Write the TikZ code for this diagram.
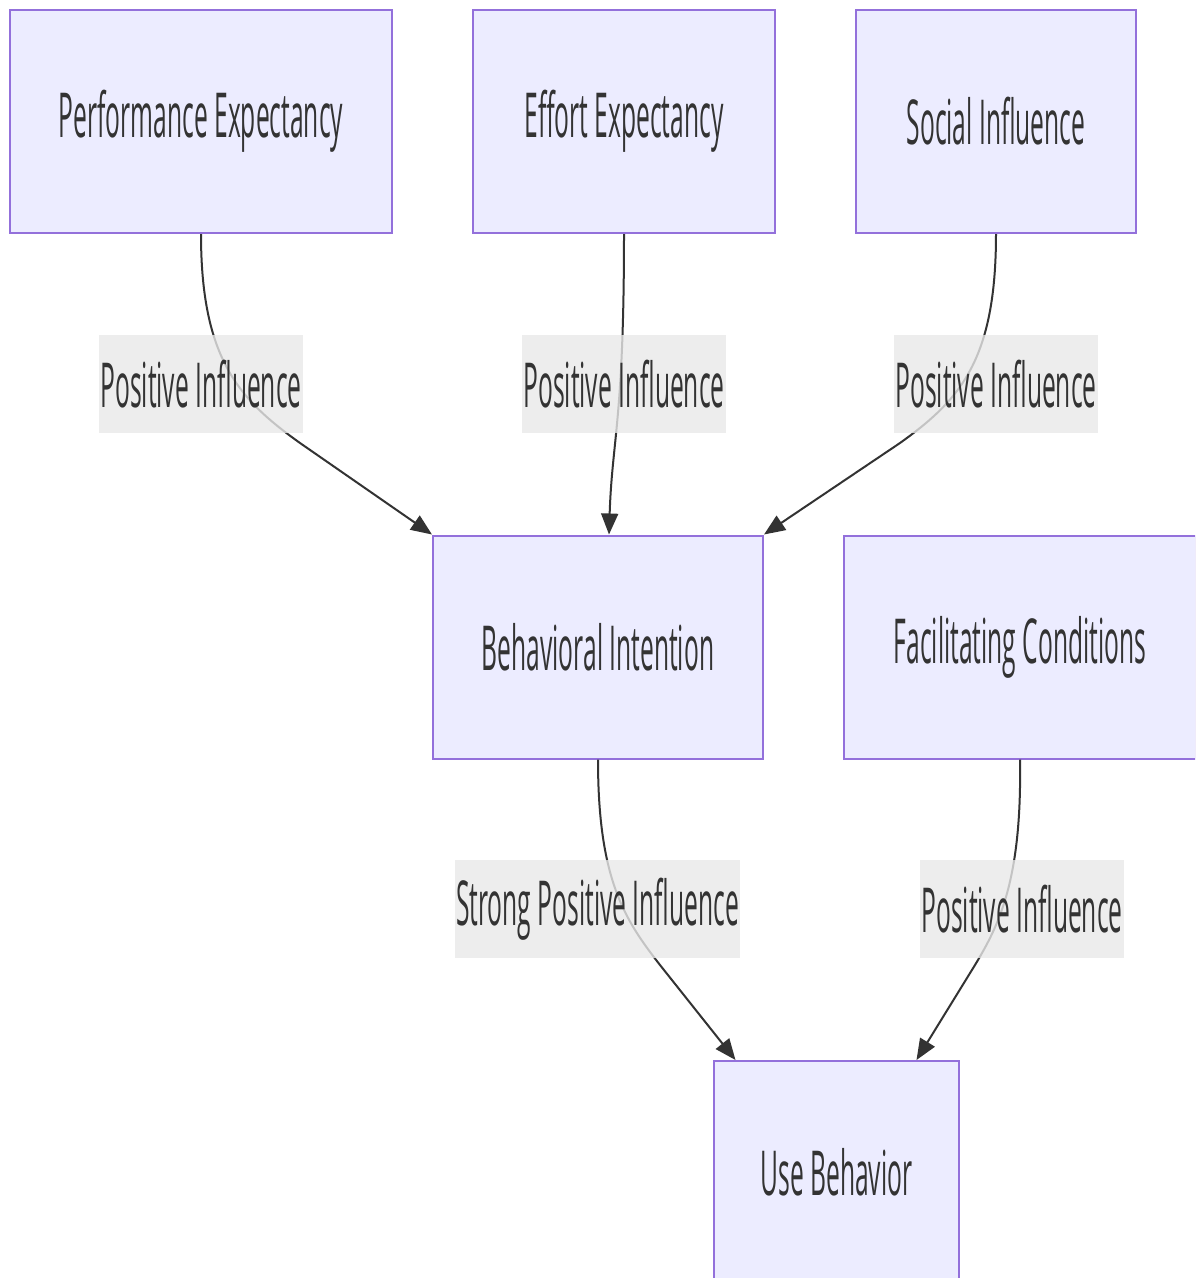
\documentclass[tikz,border=0pt]{standalone}
\usepackage{fontspec}
\setmainfont{Open Sans}
\usetikzlibrary{arrows.meta}

\definecolor{boxfill}{HTML}{ECECFF}
\definecolor{boxline}{HTML}{9370DB}
\definecolor{ink}{HTML}{333333}
\definecolor{lblfill}{HTML}{E8E8E8}

% narrow, tall lettering used for every caption
\newcommand{\captxt}[1]{\raisebox{-2pt}{\scalebox{0.397}[1]{\fontsize{62}{62}\selectfont #1}}}

\begin{document}
\begin{tikzpicture}[x=1pt,y=-1pt,
  box/.style={draw=boxline, line width=2pt, fill=boxfill, text=ink,
              inner sep=0pt, minimum height=223pt},
  lbl/.style={fill=lblfill, fill opacity=0.8, text opacity=1, text=ink,
              inner sep=0pt, minimum height=98pt},
  edge/.style={draw=ink, line width=2pt,
               -{Triangle[length=21pt,width=17pt]}}]
\useasboundingbox (0,0) rectangle (1195,1278);
\clip (0,0) rectangle (1195,1278);

% constructs
\node[box, minimum width=382pt] (pe) at (201,121.5) {\captxt{Performance Expectancy}};
\node[box, minimum width=302pt] (ee) at (624,121.5) {\captxt{Effort Expectancy}};
\node[box, minimum width=280pt] (si) at (996,121.5) {\captxt{Social Influence}};
\node[box, minimum width=330pt] (bi) at (598,647) {\captxt{Behavioral Intention}};
\node[box, minimum width=352pt] (fc) at (1020,647) {\captxt{Facilitating Conditions}};
\node[box, minimum width=245pt] (ub) at (836.5,1172.5) {\captxt{Use Behavior}};

% influence paths
\draw[edge] (pe.south) .. controls (201,360) and (240,400) .. (300,443) -- (bi.north west);
\draw[edge] (ee.south) .. controls (624,420) and (612,440) .. ([xshift=11pt]bi.north);
\draw[edge] (si.south) .. controls (996,360) and (960,400) .. (900,443) -- (bi.north east);
\draw[edge] (bi.south) .. controls (598,880) and (625,920) .. (660,965) -- ([xshift=-101pt]ub.north);
\draw[edge] (fc.south) .. controls (1022,880) and (999,925) .. (975,965) -- ([xshift=80pt]ub.north);

% edge labels
\node[lbl, minimum width=204pt] (l1) at (201,384) {\captxt{Positive Influence}};
\node[lbl, minimum width=204pt] (l2) at (624,384) {\captxt{Positive Influence}};
\node[lbl, minimum width=204pt] (l3) at (996,384) {\captxt{Positive Influence}};
\node[lbl, minimum width=285pt] (l4) at (597.5,909) {\captxt{Strong Positive Influence}};
\node[lbl, minimum width=204pt] (l5) at (1022,909) {\captxt{Positive Influence}};
\end{tikzpicture}
\end{document}
